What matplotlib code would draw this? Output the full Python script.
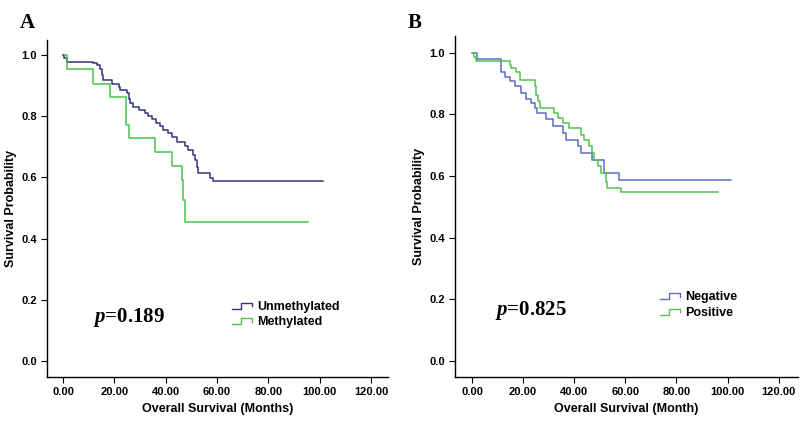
import matplotlib
matplotlib.use("Agg")
import matplotlib.pyplot as plt
from matplotlib.legend_handler import HandlerBase
from matplotlib.lines import Line2D

plt.rcParams["mathtext.fontset"] = "custom"
plt.rcParams["mathtext.it"] = "Liberation Serif:italic:bold"
plt.rcParams["mathtext.rm"] = "Liberation Serif:bold"

# Panel A: methylation status (step times in months, survival probability)
unmeth_t = [0, 0.5, 1.5, 11.8, 13.1, 14.4, 15.1, 15.7, 19.0, 21.6, 22.2, 24.8, 25.5,
            26.1, 27.4, 29.4, 31.9, 33.2, 34.5, 36.2, 37.8, 39.1, 41.0, 42.3, 44.3,
            47.5, 48.8, 50.8, 51.4, 52.1, 52.7, 57.3, 58.6, 101.3]
unmeth_s = [1.0, 0.99, 0.978, 0.973, 0.967, 0.956, 0.935, 0.918, 0.907, 0.896, 0.886,
            0.875, 0.858, 0.842, 0.831, 0.822, 0.812, 0.801, 0.790, 0.779, 0.768,
            0.755, 0.744, 0.731, 0.717, 0.703, 0.690, 0.673, 0.657, 0.635, 0.613,
            0.597, 0.587, 0.587]
meth_t = [0.8, 1.4, 11.8, 18.3, 24.5, 25.5, 35.8, 42.6, 46.2, 46.9, 47.5, 95.6]
meth_s = [1.0, 0.955, 0.905, 0.864, 0.771, 0.728, 0.682, 0.638, 0.592, 0.526, 0.455, 0.455]

# Panel B: negative vs positive
neg_t = [0, 1.8, 11.5, 12.8, 14.8, 16.7, 19.3, 21.2, 23.2, 24.5, 25.4, 29.0, 31.6,
         35.5, 36.8, 41.3, 42.6, 47.1, 51.7, 57.5, 101.5]
neg_s = [1.0, 0.979, 0.939, 0.923, 0.907, 0.893, 0.869, 0.850, 0.837, 0.820, 0.804,
         0.785, 0.761, 0.739, 0.718, 0.696, 0.674, 0.653, 0.609, 0.587, 0.587]
pos_t = [0, 0.8, 1.4, 14.8, 15.4, 17.3, 18.6, 24.5, 25.1, 25.8, 26.4, 32.2, 33.5,
         35.5, 38.1, 42.6, 43.9, 45.8, 47.1, 47.8, 49.1, 50.4, 52.3, 52.9, 58.1, 96.1]
pos_s = [1.0, 0.985, 0.972, 0.961, 0.950, 0.939, 0.912, 0.891, 0.864, 0.842, 0.820,
         0.804, 0.788, 0.772, 0.755, 0.734, 0.718, 0.696, 0.674, 0.653, 0.631, 0.609,
         0.582, 0.561, 0.547, 0.547]

x_ticks = [0, 20, 40, 60, 80, 100, 120]
y_ticks = [0.0, 0.2, 0.4, 0.6, 0.8, 1.0]


class StepHandler(HandlerBase):
    def create_artists(self, legend, orig_handle, xdescent, ydescent, width, height,
                       fontsize, trans):
        xs = [0, 0.45, 0.45, 1.0, 1.0]
        ys = [0.1, 0.1, 0.8, 0.8, 0.4]
        line = Line2D([-xdescent + x * width for x in xs],
                      [-ydescent + y * height for y in ys],
                      color=orig_handle.get_color(), lw=1.0, transform=trans)
        return [line]


def style_axes(ax, xlim, ylim):
    ax.set_xlim(*xlim)
    ax.set_ylim(*ylim)
    ax.set_xticks(x_ticks)
    ax.set_xticklabels([f"{t:.2f}" for t in x_ticks])
    ax.set_yticks(y_ticks)
    ax.set_yticklabels([f"{t:.1f}" for t in y_ticks])
    for s in ["top", "right"]:
        ax.spines[s].set_visible(False)
    for s in ["left", "bottom"]:
        ax.spines[s].set_linewidth(1.0)
    ax.tick_params(labelsize=8, length=4, width=0.8)
    for lab in ax.get_xticklabels() + ax.get_yticklabels():
        lab.set_fontweight("bold")
        lab.set_family("Liberation Sans")


fig = plt.figure(figsize=(8, 4.22), dpi=100)
fig.patch.set_facecolor("white")

lab_font = {"fontsize": 9, "fontweight": "bold", "family": "Liberation Sans"}
leg_font = {"family": "Liberation Sans", "weight": "bold", "size": 9}

# ---- Panel A
axA = fig.add_axes([0.059, 0.107, 0.426, 0.798])
h1, = axA.step(unmeth_t, unmeth_s, where="post", color="#33337f", lw=1.1)
h2, = axA.step(meth_t, meth_s, where="post", color="#4cc24c", lw=1.1)
style_axes(axA, (-6.2, 126.6), (-0.052, 1.049))
axA.set_xlabel("Overall Survival (Months)", labelpad=4, **lab_font)
axA.set_ylabel("Survival Probability", labelpad=3, **lab_font)
axA.text(0.135, 0.175, "$p$=0.189", transform=axA.transAxes, fontsize=15,
         family="Liberation Serif", fontweight="bold", va="center")
axA.legend([h1, h2], ["Unmethylated", "Methylated"], handler_map={Line2D: StepHandler()},
           loc="upper left", bbox_to_anchor=(0.525, 0.245), frameon=False,
           prop=leg_font, handlelength=1.6, handletextpad=0.4, borderpad=0,
           labelspacing=0.3)
fig.text(0.025, 0.97, "A", fontsize=15, fontweight="bold", family="Liberation Serif",
         va="top")

# ---- Panel B
axB = fig.add_axes([0.569, 0.107, 0.428, 0.808])
h3, = axB.step(neg_t, neg_s, where="post", color="#5b6dc2", lw=1.1)
h4, = axB.step(pos_t, pos_s, where="post", color="#52c252", lw=1.1)
style_axes(axB, (-6.6, 127.4), (-0.052, 1.055))
axB.set_xlabel("Overall Survival (Month)", labelpad=4, **lab_font)
axB.set_ylabel("Survival Probability", labelpad=3, **lab_font)
axB.text(0.117, 0.194, "$p$=0.825", transform=axB.transAxes, fontsize=15,
         family="Liberation Serif", fontweight="bold", va="center")
axB.legend([h3, h4], ["Negative", "Positive"], handler_map={Line2D: StepHandler()},
           loc="upper left", bbox_to_anchor=(0.58, 0.27), frameon=False,
           prop=leg_font, handlelength=1.6, handletextpad=0.4, borderpad=0,
           labelspacing=0.3)
fig.text(0.509, 0.97, "B", fontsize=15, fontweight="bold", family="Liberation Serif",
         va="top")

fig.savefig("out.png", dpi=100, facecolor="white")
